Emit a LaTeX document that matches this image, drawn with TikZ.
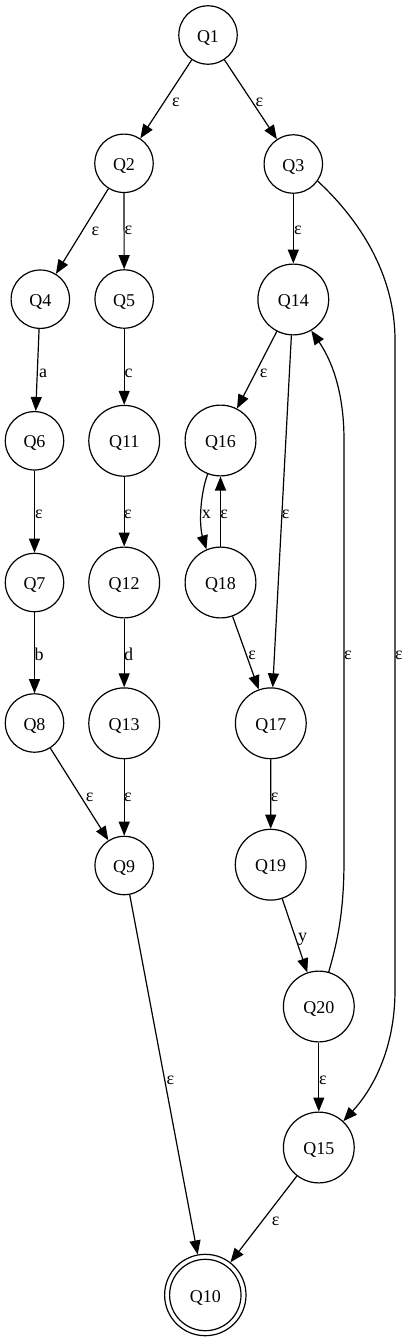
\documentclass[tikz,border=0pt]{standalone}
\usepackage{fontspec}
\setmainfont{Liberation Serif}
\usetikzlibrary{arrows.meta}
\begin{document}
\begin{tikzpicture}[x=1pt,y=1pt,
  state/.style={circle, draw, line width=1.2pt, inner sep=0pt, minimum size=58.4pt,
    font=\fontsize{18}{20}\selectfont, text height=14pt, text depth=0pt},
  big/.style={state, minimum size=70.8pt},
  final/.style={state, minimum size=81.4pt},
  e/.style={-{Triangle[length=14pt,width=11pt]}, line width=1.2pt},
  lbl/.style={anchor=base, inner sep=0pt, font=\fontsize{18}{20}\selectfont}]
\path[fill=white] (0,0) rectangle (408,-1341);
\useasboundingbox (0,0) rectangle (408,-1341);

% states
\node[state] (Q1)  at (208,-35)      {Q1};
\node[state] (Q2)  at (124,-163.3)   {Q2};
\node[state] (Q3)  at (293.3,-164)   {Q3};
\node[state] (Q4)  at (40.3,-299.2)  {Q4};
\node[state] (Q5)  at (124.2,-299)   {Q5};
\node[big]   (Q14) at (293.3,-299.5) {Q14};
\node[state] (Q6)  at (34.5,-440.8)  {Q6};
\node[big]   (Q11) at (124.2,-440.8) {Q11};
\node[big]   (Q16) at (220.5,-440.5) {Q16};
\node[state] (Q7)  at (34.5,-582.5)  {Q7};
\node[big]   (Q12) at (124.2,-582.5) {Q12};
\node[big]   (Q18) at (220.5,-582.5) {Q18};
\node[state] (Q8)  at (34.5,-723)    {Q8};
\node[big]   (Q13) at (124.2,-723.3) {Q13};
\node[big]   (Q17) at (270.8,-723.3) {Q17};
\node[state] (Q9)  at (124.2,-865.5) {Q9};
\node[big]   (Q19) at (270.7,-864.7) {Q19};
\node[big]   (Q20) at (318.8,-1006.5) {Q20};
\node[big]   (Q15) at (318.8,-1147.5) {Q15};
\node[final] (Q10) at (205.3,-1295)  {Q10};
\draw[line width=1.2pt] (Q10.center) circle (35.7pt);

% edges
\draw[e] (Q1) -- (Q2);
\node[lbl] (L1) at (176,-106) {ε};
\draw[e] (Q1) -- (Q3);
\node[lbl] (L2) at (259.5,-106) {ε};
\draw[e] (Q2) -- (Q4);
\node[lbl] (L3) at (95.3,-235) {ε};
\draw[e] (Q2) -- (Q5);
\node[lbl] (L4) at (128.5,-234.5) {ε};
\draw[e] (Q3) -- (Q14);
\node[lbl] (L5) at (298,-234.5) {ε};
\draw[e] (Q3.-35) .. controls (365,-225) and (395,-280) .. (395,-340)
   -- (395,-990) .. controls (395,-1050) and (372,-1090) .. (Q15.47);
\node[lbl] (L6) at (399,-659) {ε};
\draw[e] (Q4) -- (Q6);
\node[lbl] (L7) at (43,-377) {a};
\draw[e] (Q5) -- (Q11);
\node[lbl] (L8) at (128.7,-377) {c};
\draw[e] (Q14) -- (Q16);
\node[lbl] (L9) at (263.7,-377) {ε};
\draw[e] (Q14) -- (Q17);
\node[lbl] (L10) at (285.7,-518) {ε};
\draw[e] (Q20.74) .. controls (338,-940) and (344,-910) .. (344,-860)
   -- (344,-440) .. controls (344,-385) and (328,-355) .. (Q14.-60);
\node[lbl] (L11) at (348,-659) {ε};
\draw[e] (Q6) -- (Q7);
\node[lbl] (L12) at (39,-518) {ε};
\draw[e] (Q11) -- (Q12);
\node[lbl] (L13) at (128,-518) {ε};
\draw[e] (Q16.-111) .. controls (200,-495) and (199,-525) .. (Q18.113);
\node[lbl] (L14) at (206.3,-518) {x};
\draw[e] (Q18) -- (Q16);
\node[lbl] (L15) at (224.2,-518) {ε};
\draw[e] (Q7) -- (Q8);
\node[lbl] (L16) at (39.2,-660) {b};
\draw[e] (Q12) -- (Q13);
\node[lbl] (L17) at (128.5,-660) {d};
\draw[e] (Q18) -- (Q17);
\node[lbl] (L18) at (252.2,-659) {ε};
\draw[e] (Q8) -- (Q9);
\node[lbl] (L19) at (89.7,-801) {ε};
\draw[e] (Q13) -- (Q9);
\node[lbl] (L20) at (128,-801) {ε};
\draw[e] (Q17) -- (Q19);
\node[lbl] (L21) at (274.7,-801) {ε};
\draw[e] (Q9) -- (Q10);
\node[lbl] (L22) at (170.3,-1084) {ε};
\draw[e] (Q19) -- (Q20);
\node[lbl] (L23) at (302.5,-941) {y};
\draw[e] (Q20) -- (Q15);
\node[lbl] (L24) at (323,-1084) {ε};
\draw[e] (Q15) -- (Q10);
\node[lbl] (L25) at (275.7,-1225.7) {ε};
\end{tikzpicture}
\end{document}
